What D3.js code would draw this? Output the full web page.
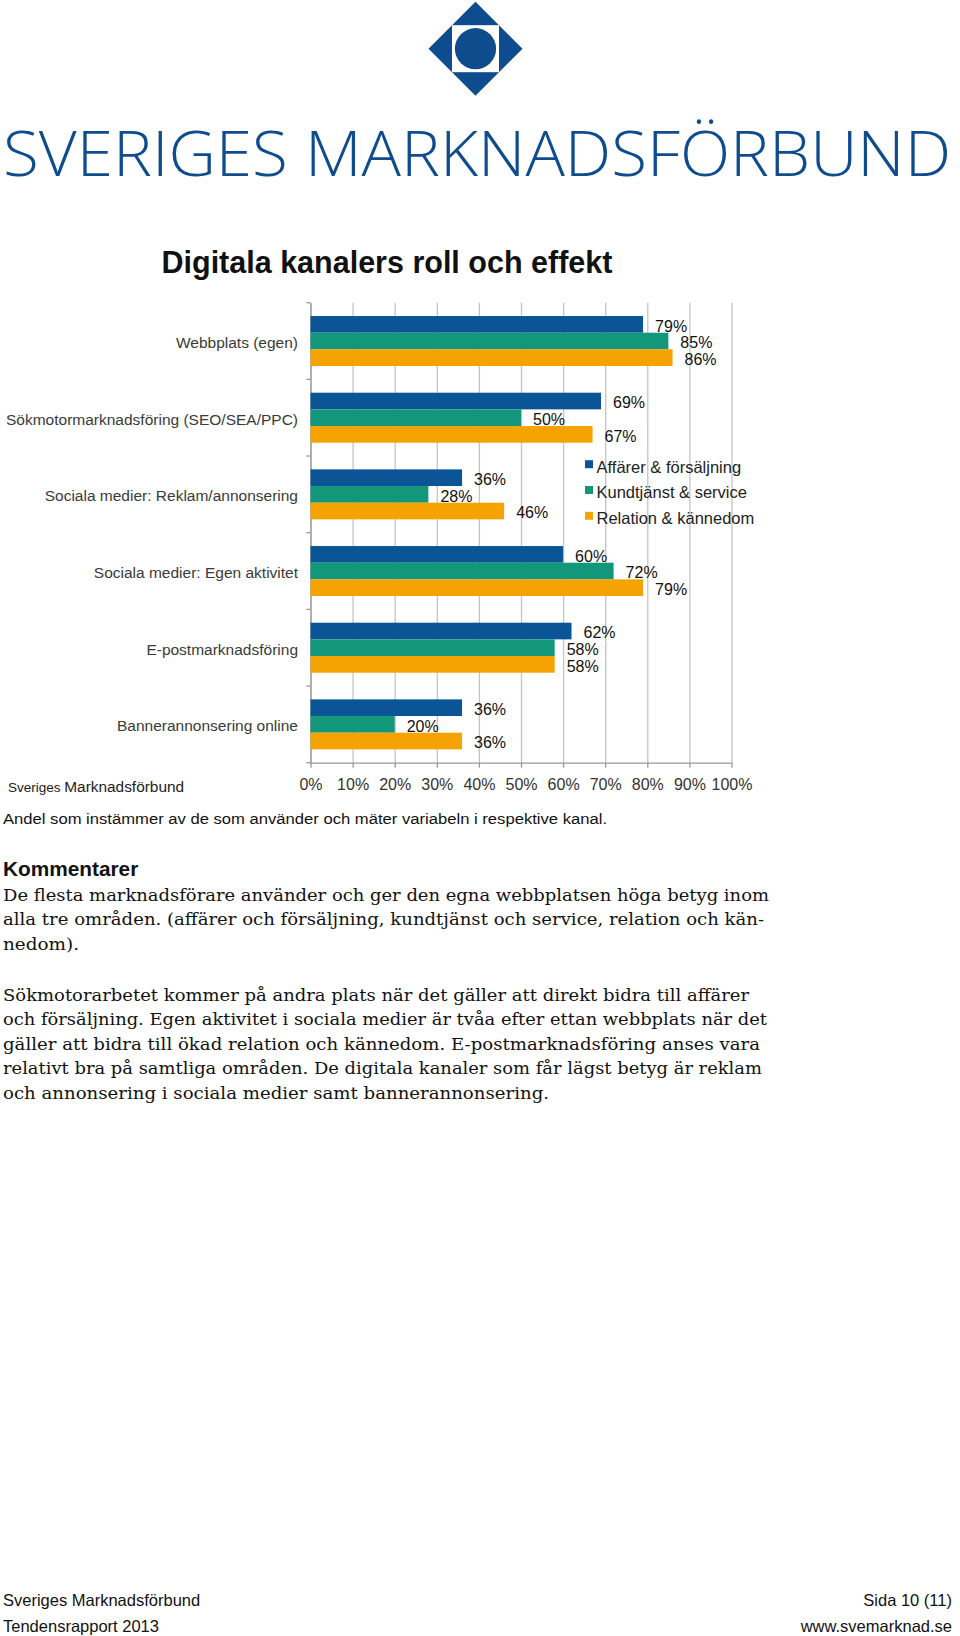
<!DOCTYPE html>
<html>
<head>
<meta charset="utf-8">
<script src="https://d3js.org/d3.v7.min.js"></script>
<style>
  body { margin: 0; background: #fff; }
  svg { display: block; }
</style>
</head>
<body>
<script>
// chart data
var categories = [
  "Webbplats (egen)",
  "Sökmotormarknadsföring (SEO/SEA/PPC)",
  "Sociala medier: Reklam/annonsering",
  "Sociala medier: Egen aktivitet",
  "E-postmarknadsföring",
  "Bannerannonsering online"
];
var seriesNames = ["Affärer & försäljning", "Kundtjänst & service", "Relation & kännedom"];
var affarer    = [79, 69, 36, 60, 62, 36];
var kundtjanst = [85, 50, 28, 72, 58, 20];
var relation   = [86, 67, 46, 79, 58, 36];
var xTicks = [0, 10, 20, 30, 40, 50, 60, 70, 80, 90, 100];

var titleText = "Digitala kanalers roll och effekt";
var noteText = "Andel som instämmer av de som använder och mäter variabeln i respektive kanal.";
var para1 = [
  "De flesta marknadsförare använder och ger den egna webbplatsen höga betyg inom",
  "alla tre områden. (affärer och försäljning, kundtjänst och service, relation och kän-",
  "nedom)."
];
var para2 = [
  "Sökmotorarbetet kommer på andra plats när det gäller att direkt bidra till affärer",
  "och försäljning. Egen aktivitet i sociala medier är tvåa efter ettan webbplats när det",
  "gäller att bidra till ökad relation och kännedom. E-postmarknadsföring anses vara",
  "relativt bra på samtliga områden. De digitala kanaler som får lägst betyg är reklam",
  "och annonsering i sociala medier samt bannerannonsering."
];

var colors = ["#0b5496", "#13977a", "#f4a302"];
var sans = "'Liberation Sans', Arial, Helvetica, sans-serif";

var svg = d3.select("body").append("svg")
    .attr("width", 960)
    .attr("height", 1636);

// ---- logo ----
var logo = svg.append("g").attr("transform", "translate(475.5,48.7)");
var h = 47;
logo.append("path")
    .attr("d", "M0," + (-h) + "L" + h + ",0L0," + h + "L" + (-h) + ",0Z")
    .attr("fill", "#0e4c8e");
logo.append("rect")
    .attr("x", -h / 2).attr("y", -h / 2)
    .attr("width", h).attr("height", h)
    .attr("fill", "#fff");
logo.append("circle")
    .attr("r", 20.6)
    .attr("fill", "#0e4c8e");

svg.append("text")
    .attr("x", 3).attr("y", 176)
    .attr("textLength", 948)
    .attr("lengthAdjust", "spacingAndGlyphs")
    .style("font-family", "'Open Sans', 'Noto Sans', sans-serif")
    .style("font-weight", 300)
    .style("font-size", "62px")
    .style("fill", "#0e4c8e")
    .text("SVERIGES MARKNADSFÖRBUND");

// ---- chart ----
svg.append("text")
    .attr("x", 161.5).attr("y", 272.5)
    .style("font-family", sans)
    .style("font-weight", "bold")
    .style("font-size", "30.5px")
    .style("fill", "#111")
    .text(titleText);

var plotTop = 302.7, plotBottom = 762.7;
var x = d3.scaleLinear().domain([0, 100]).range([310.5, 731.5]);
var y = d3.scaleBand().domain(categories).range([plotTop, plotBottom])
    .paddingInner(0.348).paddingOuter(0.174);
var yInner = d3.scaleBand().domain([0, 1, 2]).range([0, y.bandwidth()]);

var allSeries = [affarer, kundtjanst, relation];

// gridlines
var grid = svg.append("g")
    .attr("transform", "translate(0," + plotBottom + ")")
    .call(d3.axisBottom(x).tickValues(xTicks).tickSize(-(plotBottom - plotTop)).tickFormat(""));
grid.select(".domain").remove();
grid.selectAll("line").attr("stroke", "#c4c4c4").attr("stroke-width", 1.3);

// x axis
var xAxis = svg.append("g")
    .attr("transform", "translate(0," + plotBottom + ")")
    .call(d3.axisBottom(x).tickValues(xTicks).tickSizeInner(5).tickSizeOuter(0)
      .tickPadding(11).tickFormat(function (d) { return d + "%"; }));
xAxis.select(".domain").attr("stroke", "#999").attr("stroke-width", 1.3);
xAxis.selectAll("line").attr("stroke", "#999").attr("stroke-width", 1.3);
xAxis.selectAll("text")
    .style("font-family", sans)
    .style("font-size", "16px")
    .style("fill", "#333");

// y axis with ticks at band boundaries
var yAxis = svg.append("g")
    .attr("transform", "translate(" + x(0) + ",0)")
    .call(d3.axisLeft(y).tickSize(0).tickPadding(12.5));
yAxis.select(".domain").attr("stroke", "#999").attr("stroke-width", 1.3);
yAxis.selectAll("text")
    .attr("dy", "0.45em")
    .style("font-family", sans)
    .style("font-size", "15.5px")
    .style("fill", "#3a3a3a");
var bounds = d3.range(categories.length + 1).map(function (i) { return plotTop + i * y.step(); });
svg.append("g").selectAll("line")
    .data(bounds)
  .enter().append("line")
    .attr("x1", x(0) - 4).attr("x2", x(0))
    .attr("y1", function (d) { return d; })
    .attr("y2", function (d) { return d; })
    .attr("stroke", "#999").attr("stroke-width", 1.3);

// bars
var rows = [];
categories.forEach(function (c, i) {
  allSeries.forEach(function (s, j) {
    rows.push({ cat: c, s: j, v: s[i] });
  });
});

svg.append("g").selectAll("rect")
    .data(rows)
  .enter().append("rect")
    .attr("x", x(0))
    .attr("y", function (d) { return y(d.cat) + yInner(d.s); })
    .attr("width", function (d) { return x(d.v) - x(0); })
    .attr("height", yInner.bandwidth())
    .attr("fill", function (d) { return colors[d.s]; });

svg.append("g").selectAll("text")
    .data(rows)
  .enter().append("text")
    .attr("x", function (d) { return x(d.v) + 12; })
    .attr("y", function (d) { return y(d.cat) + yInner(d.s) + yInner.bandwidth() / 2 + 1.5; })
    .attr("dy", "0.36em")
    .style("font-family", sans)
    .style("font-size", "16px")
    .style("fill", "#111")
    .text(function (d) { return d.v + "%"; });

// legend
var legend = svg.append("g").selectAll("g")
    .data(seriesNames)
  .enter().append("g")
    .attr("transform", function (d, i) { return "translate(585," + (466.7 + i * 25.8) + ")"; });
legend.append("rect")
    .attr("x", 0).attr("y", -6.5)
    .attr("width", 8).attr("height", 8)
    .attr("fill", function (d, i) { return colors[i]; });
legend.append("text")
    .attr("x", 11.5).attr("dy", "0.36em")
    .style("font-family", sans)
    .style("font-size", "16.5px")
    .style("fill", "#222")
    .text(function (d) { return d; });

// source
var src = svg.append("text")
    .attr("x", 8).attr("y", 792)
    .style("font-family", sans)
    .style("fill", "#222");
src.append("tspan").style("font-size", "13.5px").text("Sveriges ");
src.append("tspan").style("font-size", "15.4px").text("Marknadsförbund");

// ---- page text ----
svg.append("text")
    .attr("x", 3).attr("y", 823.5)
    .attr("textLength", 604)
    .attr("lengthAdjust", "spacingAndGlyphs")
    .style("font-family", sans)
    .style("font-size", "15.5px")
    .style("fill", "#111")
    .text(noteText);

svg.append("text")
    .attr("x", 3).attr("y", 875.8)
    .style("font-family", sans)
    .style("font-weight", "bold")
    .style("font-size", "20.8px")
    .style("fill", "#111")
    .text("Kommentarer");

var serif = "'DejaVu Serif', Georgia, serif";
var p1Widths = [766, 761, 76];
var p2Widths = [746, 764, 757, 759, 546];

function paragraph(lines, widths, y0) {
  svg.append("g").selectAll("text")
      .data(lines)
    .enter().append("text")
      .attr("x", 3)
      .attr("y", function (d, i) { return y0 + i * 24.4; })
      .attr("textLength", function (d, i) { return widths[i]; })
      .attr("lengthAdjust", "spacingAndGlyphs")
      .style("font-family", serif)
      .style("font-size", "17.5px")
      .style("fill", "#111")
      .text(function (d) { return d; });
}
paragraph(para1, p1Widths, 901);
paragraph(para2, p2Widths, 1001);

// footer
var footer = [
  { t: "Sveriges Marknadsförbund", x: 3, y: 1606, a: "start" },
  { t: "Tendensrapport 2013", x: 3, y: 1631.5, a: "start" },
  { t: "Sida 10 (11)", x: 952, y: 1606, a: "end" },
  { t: "www.svemarknad.se", x: 952, y: 1631.5, a: "end" }
];
svg.append("g").selectAll("text")
    .data(footer)
  .enter().append("text")
    .attr("x", function (d) { return d.x; })
    .attr("y", function (d) { return d.y; })
    .attr("text-anchor", function (d) { return d.a; })
    .style("font-family", sans)
    .style("font-size", "16.5px")
    .style("fill", "#111")
    .text(function (d) { return d.t; });
</script>
</body>
</html>
